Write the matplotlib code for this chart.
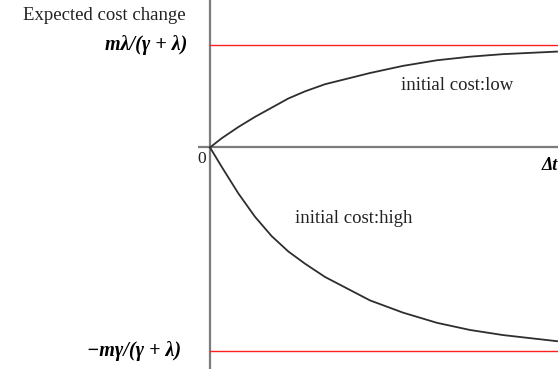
import matplotlib
matplotlib.use("Agg")
import matplotlib.pyplot as plt

# Readings (x in units of delta t, y scaled so the upper asymptote = 1)
upper_asym = 1.0
lower_asym = -2.0
low_x = [0, 0.117, 0.283, 0.45, 0.617, 0.783, 0.95, 1.15, 1.60, 1.93, 2.27, 2.60, 2.93, 3.47]
low_y = [0, 0.09, 0.20, 0.30, 0.39, 0.48, 0.55, 0.62, 0.73, 0.80, 0.855, 0.89, 0.915, 0.94]
high_x = [0, 0.117, 0.283, 0.45, 0.617, 0.783, 0.95, 1.15, 1.60, 1.93, 2.27, 2.60, 2.93, 3.47]
high_y = [0, -0.19, -0.45, -0.68, -0.87, -1.02, -1.14, -1.27, -1.50, -1.62, -1.72, -1.79, -1.84, -1.90]

ylabel = "Expected cost change"
upper_label = "mλ/(γ + λ)"
lower_label = "−mγ/(γ + λ)"
low_text = "initial cost:low"
high_text = "initial cost:high"
xlabel = "Δt"

serif = ["Liberation Serif", "DejaVu Serif"]

fig = plt.figure(figsize=(5.58, 3.73), dpi=100)
ax = fig.add_axes([0, 0, 1, 1])
ax.set_xlim(-2.10, 3.48)
ax.set_ylim(-2.212, 1.446)
ax.axis("off")

axis_col = "#7c7c7c"
ax.plot([0, 0], [1.446, -2.17], color=axis_col, lw=1.6, solid_capstyle="butt")
ax.plot([-0.12, 3.48], [0, 0], color=axis_col, lw=1.6, solid_capstyle="butt")

ax.plot([0, 3.48], [upper_asym, upper_asym], color="#ff2020", lw=1.0)
ax.plot([0, 3.48], [lower_asym, lower_asym], color="#ff2020", lw=1.0)

ax.plot(low_x, low_y, color="#2e2e2e", lw=1.3)
ax.plot(high_x, high_y, color="#2e2e2e", lw=1.3)

ax.text(-1.06, 1.294, ylabel, family=serif, fontsize=13.5, ha="center", va="center", color="#222222")
ax.text(-0.23, upper_asym, upper_label, family=serif, fontsize=14.5, fontweight="bold",
        style="italic", ha="right", va="center")
ax.text(-0.29, lower_asym, lower_label, family=serif, fontsize=14.5, fontweight="bold",
        style="italic", ha="right", va="center")
ax.text(-0.08, -0.11, "0", family=serif, fontsize=12.5, ha="center", va="center", color="#222222")
ax.text(3.32, -0.18, xlabel, family=serif, fontsize=13, fontweight="bold",
        style="italic", ha="left", va="center")
ax.text(2.47, 0.61, low_text, family=serif, fontsize=13.5, ha="center", va="center", color="#222222")
ax.text(1.44, -0.70, high_text, family=serif, fontsize=13.5, ha="center", va="center", color="#222222")

fig.savefig("out.png", dpi=100)
